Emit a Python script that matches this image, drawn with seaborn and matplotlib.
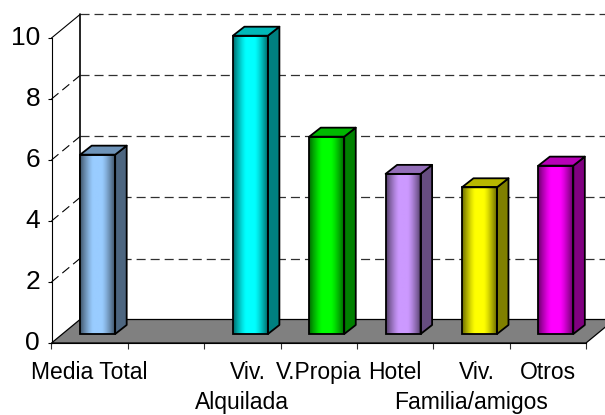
import numpy as np
import pandas as pd
import matplotlib
matplotlib.use("Agg")
import matplotlib.pyplot as plt
from matplotlib.patches import Polygon
from matplotlib.transforms import ScaledTranslation
import seaborn as sns

categories = ["Media Total", " ", "Viv.\nAlquilada", "V.Propia", "Hotel", "Viv.\nFamilia/amigos", "Otros"]
values = [5.88, np.nan, 9.78, 6.47, 5.25, 4.81, 5.52]
colors = ["#99CCFF", "#FFFFFF", "#00FFFF", "#00FF00", "#CC99FF", "#FFFF00", "#FF00FF"]
y_ticks = [0, 2, 4, 6, 8, 10]

sns.set_theme(style="white")
plt.rcParams["font.family"] = ["Liberation Sans", "DejaVu Sans"]
plt.rcParams["lines.scale_dashes"] = False

W, H = 605, 415
fig = plt.figure(figsize=(W / 100, H / 100), dpi=100, facecolor="white")
L, R, B, T = 51.5, 586.0, 343.0, 38.0
ax = fig.add_axes([L / W, 1 - B / H, (R - L) / W, (B - T) / H])
ax.patch.set_alpha(0)

df = pd.DataFrame({"cat": categories, "val": values})
sns.barplot(data=df, x="cat", y="val", hue="cat", order=categories, hue_order=categories,
            palette=colors, legend=False, width=35 / 76.36, saturation=1, ax=ax,
            edgecolor="black", linewidth=1.3, zorder=6)
bars = list(ax.patches)

px_x = 1 / ((R - L) / len(categories))
px_y = 1 / ((B - T) / 10)
wall_dx, wall_dy = 28.5 * px_x, 23.5 * px_y
bar_dx, bar_dy = 8.0 * px_x, 9.0 * px_y
side_dx, side_dy = 11.5 * px_x, 9.0 * px_y
xmin, xmax = -0.5, len(categories) - 0.5

# walls and floor
dash = (0, (6.5, 3.6))
for t in y_ticks:
    if t == 0:
        continue
    solid = t == max(y_ticks)
    ax.plot([xmin, xmin + wall_dx], [t, t + wall_dy], color="black", lw=0.8,
            ls="-" if solid else dash, clip_on=False, zorder=1)
    ax.plot([xmin + wall_dx, xmax + wall_dx], [t + wall_dy, t + wall_dy],
            color="#303030", lw=0.9, ls=dash, clip_on=False, zorder=1)
ax.plot([xmin + wall_dx, xmin + wall_dx], [wall_dy, max(y_ticks) + wall_dy],
        color="black", lw=1.2, clip_on=False, zorder=1)
ax.add_patch(Polygon([(xmin, 0), (xmax, 0), (xmax + wall_dx, wall_dy), (xmin + wall_dx, wall_dy)],
                     closed=True, fc="#808080", ec="black", lw=0.9, clip_on=False, zorder=2))

# bars: shift seaborn's bars onto the floor and add gradient, top and side faces
for p in bars:
    h = p.get_height()
    if not np.isfinite(h) or h <= 0:
        continue
    rgb = np.array(p.get_facecolor()[:3])
    x0 = p.get_x() + bar_dx
    w = p.get_width()
    y0 = bar_dy
    p.set_x(x0)
    p.set_y(y0)
    p.set_facecolor("none")
    p.set_clip_on(False)
    u = np.abs(np.linspace(-1, 1, 64))
    bright = np.clip(1.0 - 0.58 * np.clip((u - 0.25) / 0.75, 0, 1) ** 1.3, 0, 1)
    img = (bright[:, None] * rgb)[None, :, :]
    ax.imshow(img, extent=[x0, x0 + w, y0, y0 + h], aspect="auto", interpolation="bilinear",
              zorder=4, clip_on=False)
    ax.add_patch(Polygon([(x0 + w, y0), (x0 + w + side_dx, y0 + side_dy),
                          (x0 + w + side_dx, y0 + h + side_dy), (x0 + w, y0 + h)],
                         closed=True, fc=rgb * 0.5, ec="black", lw=1.3, clip_on=False,
                         joinstyle="round", zorder=5))
    ax.add_patch(Polygon([(x0, y0 + h), (x0 + w, y0 + h), (x0 + w + side_dx, y0 + h + side_dy),
                          (x0 + side_dx, y0 + h + side_dy)],
                         closed=True, fc=rgb * 0.72, ec="black", lw=1.3, clip_on=False,
                         joinstyle="round", zorder=5))

ax.set_xlim(xmin, xmax)
ax.set_ylim(0, 10)
ax.set_xlabel("")
ax.set_ylabel("")
ax.set_yticks(y_ticks)
ax.set_yticklabels([str(t) for t in y_ticks])
ax.tick_params(axis="y", left=True, length=3.2, width=0.8, color="black", pad=5.0,
               labelsize=19, labelcolor="black")
for lab in ax.get_yticklabels():
    lab.set_transform(lab.get_transform() + ScaledTranslation(0, 1.5 / 72, fig.dpi_scale_trans))

first_lines = [c.split("\n")[0].strip() for c in categories]
second_lines = [c.split("\n")[1] if "\n" in c else "" for c in categories]
ax.set_xticks(range(len(categories)))
ax.set_xticklabels(first_lines)
ax.set_xticks(np.arange(len(categories) + 1) - 0.5, minor=True)
ax.tick_params(axis="x", which="major", bottom=False, length=0, pad=13.0, labelsize=16.5,
               labelcolor="black")
ax.tick_params(axis="x", which="minor", bottom=True, length=4.5, width=0.8, color="#303030")
for lab, line in zip(ax.get_xticklabels(), second_lines):
    if line:
        lab.set_transform(lab.get_transform() + ScaledTranslation(5.5 / 100, 0, fig.dpi_scale_trans))
for i, line in enumerate(second_lines):
    if line:
        ax.annotate(line, xy=(i, 0), xycoords=ax.get_xaxis_transform(), xytext=(0, -47.6),
                    textcoords="offset points", ha="center", va="baseline", fontsize=16.5,
                    color="black", annotation_clip=False)
sns.despine(ax=ax, top=True, right=True)
for s in ("left", "bottom"):
    ax.spines[s].set_color("black")
    ax.spines[s].set_linewidth(0.8)
    ax.spines[s].set_zorder(3)

fig.savefig("out.png", dpi=100, facecolor="white")
